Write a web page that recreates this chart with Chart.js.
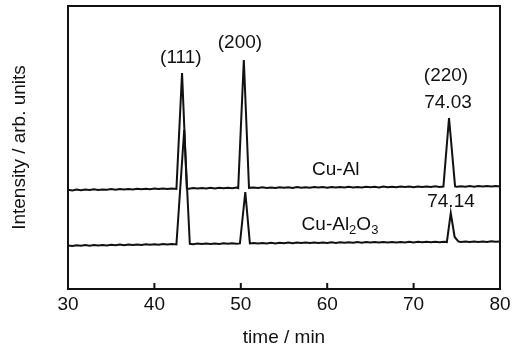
<!DOCTYPE html>
<html>
<head>
<meta charset="utf-8">
<script src="https://cdn.jsdelivr.net/npm/chart.js@4.4.1/dist/chart.umd.min.js"></script>
<style>
  html, body { margin: 0; padding: 0; background: #fff; }
  #wrap { width: 515px; height: 354px; }
</style>
</head>
<body>
<div id="wrap"><canvas id="xrd"></canvas></div>
<script>
// x tick labels (time / min)
const xTicks = [30, 40, 50, 60, 70, 80];

// Cu-Al trace (upper)
const cuAlX = [30, 30.5, 31, 31.5, 32, 32.5, 33, 33.5, 34, 34.5, 35, 35.5, 36, 36.5, 37, 37.5, 38, 38.5, 39, 39.5,
  40, 40.5, 41, 41.5, 42, 42.55, 43.2, 43.75, 44, 44.5, 45, 45.5, 46, 46.5, 47, 47.5, 48, 48.5, 49, 49.5,
  49.7, 50.35, 50.95, 51.5, 52, 52.5, 53, 53.5, 54, 54.5, 55, 55.5, 56, 56.5, 57, 57.5, 58, 58.5, 59, 59.5,
  60, 60.5, 61, 61.5, 62, 62.5, 63, 63.5, 64, 64.5, 65, 65.5, 66, 66.5, 67, 67.5, 68, 68.5, 69, 69.5,
  70, 70.5, 71, 71.5, 72, 72.5, 73, 73.45, 74.1, 74.8, 75, 75.5, 76, 76.5, 77, 77.5, 78, 78.5, 79, 79.5, 80];
const cuAlY = [99.2, 98.6, 99.4, 98.8, 99.5, 99.0, 99.7, 99.1, 99.6, 99.2, 99.9, 99.3, 100.0, 99.4, 100.1, 99.6, 100.2, 99.7, 100.3, 99.8,
  100.4, 99.9, 100.5, 100.0, 100.6, 100.1, 216, 100.6, 100.3, 101.0, 100.4, 101.1, 100.5, 101.2, 100.6, 101.3, 100.7, 101.2, 100.8, 101.4,
  100.9, 229, 101.2, 101.6, 101.0, 101.7, 101.1, 101.6, 101.0, 101.8, 101.2, 101.7, 101.1, 101.9, 101.3, 101.8, 101.2, 102.0, 101.4, 101.9,
  101.3, 102.1, 101.5, 102.0, 101.4, 102.2, 101.6, 102.1, 101.5, 102.3, 101.7, 102.2, 101.6, 102.4, 101.8, 102.3, 101.7, 102.5, 101.9, 102.4,
  101.8, 102.6, 102.0, 102.5, 101.9, 102.7, 102.1, 102.4, 171, 102.6, 102.2, 102.8, 102.2, 102.9, 102.3, 102.9, 102.4, 103.0, 102.4, 103.1, 102.6];

// Cu-Al2O3 trace (lower)
const cuAl2O3X = [30, 30.5, 31, 31.5, 32, 32.5, 33, 33.5, 34, 34.5, 35, 35.5, 36, 36.5, 37, 37.5, 38, 38.5, 39, 39.5,
  40, 40.5, 41, 41.5, 42, 42.55, 43.45, 44.1, 44.5, 45, 45.5, 46, 46.5, 47, 47.5, 48, 48.5, 49, 49.5,
  49.9, 50.52, 51.05, 51.5, 52, 52.5, 53, 53.5, 54, 54.5, 55, 55.5, 56, 56.5, 57, 57.5, 58, 58.5, 59, 59.5,
  60, 60.5, 61, 61.5, 62, 62.5, 63, 63.5, 64, 64.5, 65, 65.5, 66, 66.5, 67, 67.5, 68, 68.5, 69, 69.5,
  70, 70.5, 71, 71.5, 72, 72.5, 73, 73.5, 73.85, 74.3, 74.75, 75.2, 75.5, 76, 76.5, 77, 77.5, 78, 78.5, 79, 79.5, 80];
const cuAl2O3Y = [43.6, 43.0, 43.8, 43.2, 43.9, 43.3, 44.0, 43.4, 44.1, 43.6, 44.2, 43.7, 44.4, 43.8, 44.5, 43.9, 44.6, 44.1, 44.7, 44.2,
  44.8, 44.3, 45.0, 44.4, 45.1, 44.6, 159, 45.2, 44.8, 45.4, 44.9, 45.5, 45.0, 45.6, 45.1, 45.7, 45.2, 45.8, 45.3,
  45.6, 97, 45.6, 46.0, 45.4, 46.1, 45.5, 46.2, 45.6, 46.3, 45.7, 46.4, 45.8, 46.4, 45.9, 46.5, 45.9, 46.6, 46.0, 46.6,
  46.1, 46.7, 46.1, 46.8, 46.2, 46.8, 46.3, 46.9, 46.3, 46.9, 46.4, 47.0, 46.4, 47.0, 46.5, 47.1, 46.5, 47.1, 46.6, 47.2,
  46.6, 47.2, 46.7, 47.3, 46.7, 47.3, 46.8, 47.3, 46.9, 76, 52, 47.4, 47.0, 47.5, 47.0, 47.6, 47.1, 47.6, 47.1, 47.7, 47.2, 47.6];

// labels written on the plot, in data units
const noteText = ['(111)', '(200)', '(220)', '74.03', 'Cu-Al', '74.14'];
const noteX = [43.06, 49.9, 73.75, 73.98, 61.0, 74.33];
const noteY = [231, 246, 213, 186, 119, 87];

const ink = '#111';
const fontFamily = '"Liberation Sans", Arial, Helvetica, sans-serif';

const toPoints = (xs, ys) => xs.map((x, i) => ({ x: x, y: ys[i] }));

// frame, inward ticks and text notes
const framePlugin = {
  id: 'frame',
  afterDraw(chart) {
    const ctx = chart.ctx;
    const a = chart.chartArea;
    const xs = chart.scales.x;
    const ys = chart.scales.y;
    ctx.save();
    ctx.strokeStyle = ink;
    ctx.lineWidth = 2;
    ctx.strokeRect(a.left, a.top, a.right - a.left, a.bottom - a.top);
    xTicks.forEach(v => {
      const px = xs.getPixelForValue(v);
      ctx.beginPath();
      ctx.moveTo(px, a.bottom);
      ctx.lineTo(px, a.bottom - 6);
      ctx.stroke();
    });

    ctx.fillStyle = ink;
    ctx.font = '19px ' + fontFamily;
    ctx.textAlign = 'center';
    ctx.textBaseline = 'middle';
    noteText.forEach((t, i) => {
      ctx.fillText(t, xs.getPixelForValue(noteX[i]), ys.getPixelForValue(noteY[i]));
    });

    // Cu-Al2O3 with subscripts
    const parts = [['Cu-Al', 19, 0], ['2', 13, 5], ['O', 19, 0], ['3', 13, 5]];
    let w = 0;
    parts.forEach(p => { ctx.font = p[1] + 'px ' + fontFamily; w += ctx.measureText(p[0]).width; });
    let cx = xs.getPixelForValue(61.48) - w / 2;
    const cy = ys.getPixelForValue(64);
    ctx.textAlign = 'left';
    parts.forEach(p => {
      ctx.font = p[1] + 'px ' + fontFamily;
      ctx.fillText(p[0], cx, cy + p[2]);
      cx += ctx.measureText(p[0]).width;
    });
    ctx.restore();
  }
};

new Chart(document.getElementById('xrd'), {
  type: 'scatter',
  data: {
    datasets: [
      { label: 'Cu-Al', data: toPoints(cuAlX, cuAlY), showLine: true, borderColor: ink, borderWidth: 2, pointRadius: 0, tension: 0 },
      { label: 'Cu-Al2O3', data: toPoints(cuAl2O3X, cuAl2O3Y), showLine: true, borderColor: ink, borderWidth: 2, pointRadius: 0, tension: 0 }
    ]
  },
  options: {
    responsive: true,
    maintainAspectRatio: false,
    animation: false,
    layout: { padding: { top: 6, right: 15, left: 0, bottom: 0 } },
    plugins: { legend: { display: false }, tooltip: { enabled: false } },
    scales: {
      x: {
        type: 'linear',
        min: 30,
        max: 80,
        afterBuildTicks: scale => { scale.ticks = xTicks.map(v => ({ value: v })); },
        afterFit: scale => { scale.height = 65; },
        grid: { display: false, drawTicks: false },
        border: { display: false },
        ticks: { color: ink, padding: 4, font: { family: fontFamily, size: 19 } },
        title: { display: true, text: 'time / min', color: ink, padding: { top: 0, bottom: 5 }, font: { family: fontFamily, size: 19 } }
      },
      y: {
        min: 0,
        max: 283,
        afterFit: scale => { scale.width = 68; },
        grid: { display: false, drawTicks: false },
        border: { display: false },
        ticks: { display: false },
        title: { display: true, text: 'Intensity / arb. units', color: ink, padding: { top: 8, bottom: 0 }, font: { family: fontFamily, size: 19 } }
      }
    }
  },
  plugins: [framePlugin]
});
</script>
</body>
</html>
